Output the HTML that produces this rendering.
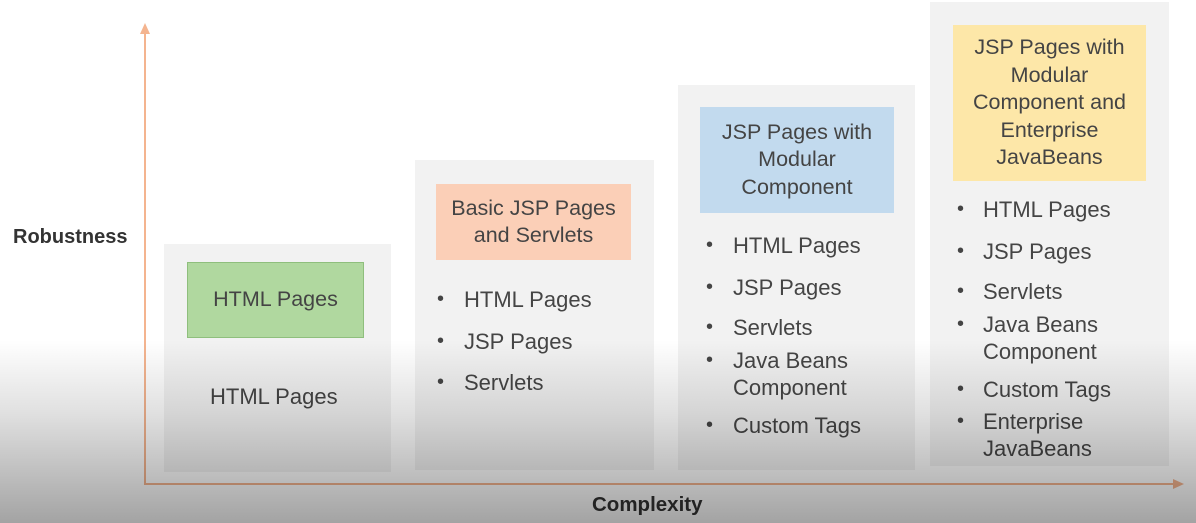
<!DOCTYPE html>
<html><head><meta charset="utf-8"><style>
*{margin:0;padding:0;box-sizing:border-box}
body{width:1196px;height:523px;position:relative;overflow:hidden;background:#fff;font-family:"Liberation Sans",sans-serif;color:#454545}
.b{position:absolute;background:#f2f2f2}
.h{position:absolute;display:flex;align-items:center;justify-content:center;text-align:center;font-size:21.5px;line-height:27.5px;color:#444}
.t{position:absolute;font-size:22px;line-height:27px;white-space:nowrap}
.d{position:absolute;font-size:20px;line-height:27px}
</style></head><body>
<svg width="1196" height="523" style="position:absolute;left:0;top:0">
<line x1="145" y1="32" x2="145" y2="485" stroke="#f4b48f" stroke-width="2"/>
<polygon points="145,23 140,34 150,34" fill="#f4b48f"/>
<line x1="144" y1="484" x2="1174" y2="484" stroke="#f4b48f" stroke-width="2"/>
<polygon points="1184,484 1173,479 1173,489" fill="#f4b48f"/>
</svg>
<div style="position:absolute;left:13px;top:226px;font-weight:bold;font-size:20px;color:#333">Robustness</div>
<div style="position:absolute;left:592px;top:493px;font-weight:bold;font-size:20.5px;color:#333">Complexity</div>

<div class="b" style="left:164px;top:244px;width:227px;height:228px"></div>
<div class="h" style="left:187px;top:262px;width:177px;height:76px;background:#b0d89f;border:1px solid #8fbf7d">HTML Pages</div>
<div class="t" style="left:210px;top:383px">HTML Pages</div>

<div class="b" style="left:415px;top:160px;width:239px;height:310px"></div>
<div class="h" style="left:436px;top:184px;width:195px;height:76px;background:#fbcfb7">Basic JSP Pages<br>and Servlets</div>
<div class="d" style="left:437px;top:286px">•</div><div class="t" style="left:464px;top:286px">HTML Pages</div>
<div class="d" style="left:437px;top:328px">•</div><div class="t" style="left:464px;top:328px">JSP Pages</div>
<div class="d" style="left:437px;top:369px">•</div><div class="t" style="left:464px;top:369px">Servlets</div>

<div class="b" style="left:678px;top:85px;width:237px;height:385px"></div>
<div class="h" style="left:700px;top:107px;width:194px;height:106px;background:#c2daee">JSP Pages with<br>Modular<br>Component</div>
<div class="d" style="left:706px;top:232px">•</div><div class="t" style="left:733px;top:232px">HTML Pages</div>
<div class="d" style="left:706px;top:274px">•</div><div class="t" style="left:733px;top:274px">JSP Pages</div>
<div class="d" style="left:706px;top:314px">•</div><div class="t" style="left:733px;top:314px">Servlets</div>
<div class="d" style="left:706px;top:347px">•</div><div class="t" style="left:733px;top:347px">Java Beans<br>Component</div>
<div class="d" style="left:706px;top:412px">•</div><div class="t" style="left:733px;top:412px">Custom Tags</div>

<div class="b" style="left:930px;top:2px;width:239px;height:464px"></div>
<div class="h" style="left:953px;top:25px;width:193px;height:156px;background:#fde7a8">JSP Pages with<br>Modular<br>Component and<br>Enterprise<br>JavaBeans</div>
<div class="d" style="left:957px;top:196px">•</div><div class="t" style="left:983px;top:196px">HTML Pages</div>
<div class="d" style="left:957px;top:238px">•</div><div class="t" style="left:983px;top:238px">JSP Pages</div>
<div class="d" style="left:957px;top:278px">•</div><div class="t" style="left:983px;top:278px">Servlets</div>
<div class="d" style="left:957px;top:311px">•</div><div class="t" style="left:983px;top:311px">Java Beans<br>Component</div>
<div class="d" style="left:957px;top:376px">•</div><div class="t" style="left:983px;top:376px">Custom Tags</div>
<div class="d" style="left:957px;top:408px">•</div><div class="t" style="left:983px;top:408px">Enterprise<br>JavaBeans</div>

<div style="position:absolute;left:0;top:340px;width:1196px;height:183px;background:linear-gradient(to bottom,rgba(0,0,0,0),rgba(0,0,0,0.12) 40%,rgba(0,0,0,0.36))"></div>
</body></html>
